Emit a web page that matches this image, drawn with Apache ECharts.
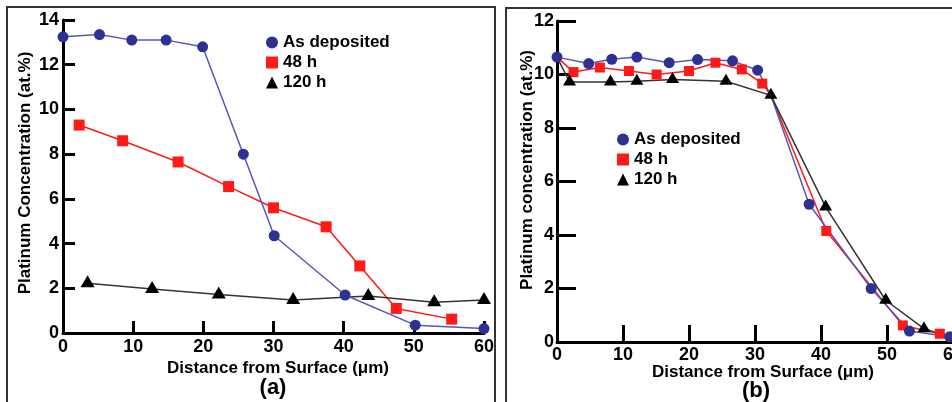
<!DOCTYPE html>
<html>
<head>
<meta charset="utf-8">
<script src="https://cdn.jsdelivr.net/npm/echarts@6/dist/echarts.min.js"></script>
<style>
html,body{margin:0;padding:0;background:#fff}
#chart{width:952px;height:402px}
</style>
</head>
<body>
<div id="chart"></div>
<script>
// series names (legend)
var names = ['As deposited', '48 h', '120 h'];

// panel (a): [distance um, Pt at.%]
var aDeposited = [[0,13.25],[5.2,13.35],[9.8,13.1],[14.7,13.1],[19.9,12.8],[25.7,8.0],[30.1,4.35],[40.2,1.7],[50.2,0.35],[60,0.2]];
var a48h = [[2.3,9.3],[8.5,8.6],[16.4,7.65],[23.6,6.55],[30,5.6],[37.5,4.75],[42.3,3.0],[47.5,1.1],[55.4,0.62]];
var a120h = [[3.5,2.22],[12.7,1.97],[22.2,1.72],[32.8,1.48],[43.5,1.65],[52.9,1.38],[60,1.48]];

// panel (b)
var bDeposited = [[0,10.65],[4.8,10.41],[8.3,10.57],[12.1,10.65],[17.0,10.44],[21.3,10.56],[26.6,10.51],[30.4,10.16],[32.4,9.22],[38.2,5.15],[47.6,2.0],[53.4,0.41],[59.5,0.2]];
var b48h = [[0,10.65],[2.5,10.09],[6.5,10.26],[10.9,10.13],[15.1,10.0],[20.0,10.13],[24.0,10.44],[28.0,10.19],[31.1,9.66],[32.4,9.22],[40.8,4.15],[52.4,0.62],[58.0,0.31],[59.5,0.2]];
var b120h = [[0,10.65],[1.9,9.72],[8.1,9.72],[12.1,9.75],[17.5,9.81],[25.6,9.75],[32.4,9.22],[40.7,5.05],[49.8,1.56],[55.6,0.5],[59.5,0.2]];
// points shared with another curve (marker drawn by the other one)
var bDepositedHidden = [8];
var b48hHidden = [0, 9, 13];
var b120hHidden = [0, 10];

var FONT = '"Liberation Sans", Arial, sans-serif';
var BLUE = '#2e3192', BLUE_LINE = '#5656bb', RED = '#ff1a1a', BLACK = '#000';

function axisX(idx) {
    return {
        type: 'value', gridIndex: idx, min: 0, max: 60, interval: 10,
        axisLine: {lineStyle: {color: '#000', width: 3}},
        axisTick: {inside: true, length: idx ? 17 : 12, lineStyle: {color: '#000', width: 3}},
        axisLabel: {color: '#000', fontSize: 18, fontWeight: 'bold', fontFamily: FONT, margin: idx ? 4 : 5},
        splitLine: {show: false}
    };
}
function axisY(idx, max) {
    return {
        type: 'value', gridIndex: idx, min: 0, max: max, interval: 2,
        axisLine: {show: true, lineStyle: {color: '#000', width: 3}},
        axisTick: {show: true, inside: true, length: idx ? 19 : 12, lineStyle: {color: '#000', width: 3}},
        axisLabel: {color: '#000', fontSize: 18, fontWeight: 'bold', fontFamily: FONT, margin: idx ? 3 : 4},
        splitLine: {show: false}
    };
}
function line(name, idx, data, symbol, size, color, lineColor, hidden) {
    var s = {
        type: 'line', name: name, xAxisIndex: idx, yAxisIndex: idx, data: data,
        symbol: symbol,
        symbolSize: hidden ? function (v, p) { return hidden.indexOf(p.dataIndex) >= 0 ? 0 : size; } : size,
        itemStyle: {color: color},
        lineStyle: {color: lineColor, width: 1.5},
        emphasis: {disabled: true}
    };
    if (symbol === 'triangle') s.symbolOffset = [0, -2];
    return s;
}
function legend(left, top) {
    return {
        left: left, top: top, orient: 'vertical', itemWidth: 12, itemHeight: 12, itemGap: 3,
        data: [{name: names[0], icon: 'circle'}, {name: names[1], icon: 'rect'}, {name: names[2], icon: 'triangle'}],
        textStyle: {color: '#000', fontSize: 17, fontWeight: 'bold', fontFamily: FONT},
        selectedMode: false
    };
}
function label(text, x, y, size, rot) {
    return {
        type: 'text', x: x, y: y, rotation: rot || 0,
        style: {text: text, fill: '#000', font: 'bold ' + size + 'px ' + FONT, textAlign: 'center', textVerticalAlign: 'middle'}
    };
}

var chart = echarts.init(document.getElementById('chart'));
chart.setOption({
    animation: false,
    grid: [
        {left: 63, top: 20, width: 421, height: 313, outerBoundsMode: 'none'},
        {left: 557, top: 21, width: 396, height: 321, outerBoundsMode: 'none'}
    ],
    xAxis: [axisX(0), axisX(1)],
    yAxis: [axisY(0, 14), axisY(1, 12)],
    legend: [legend(261, 29), legend(612, 126)],
    series: [
        line(names[1], 0, a48h, 'rect', 11, RED, RED),
        line(names[2], 0, a120h, 'triangle', [14, 12], BLACK, '#333'),
        line(names[0], 0, aDeposited, 'circle', 11, BLUE, BLUE_LINE),
        line(names[1], 1, b48h, 'rect', 10, RED, RED, b48hHidden),
        line(names[0], 1, bDeposited, 'circle', 11, BLUE, BLUE_LINE, bDepositedHidden),
        line(names[2], 1, b120h, 'triangle', [13, 11], BLACK, '#333', b120hHidden)
    ],
    graphic: [
        {type: 'rect', shape: {x: 7, y: 7, width: 488, height: 420}, style: {fill: 'none', stroke: '#333', lineWidth: 2}},
        {type: 'rect', shape: {x: 506, y: 8, width: 480, height: 420}, style: {fill: 'none', stroke: '#333', lineWidth: 2}},
        label('Distance from Surface (\u03bcm)', 278, 368, 17),
        label('Platinum Concentration (at.%)', 25, 173, 17, Math.PI / 2),
        label('(a)', 273, 388, 22),
        label('Distance from Surface (\u03bcm)', 763, 372, 17),
        label('Platinum concentration (at.%)', 527, 170, 17, Math.PI / 2),
        label('(b)', 756, 391, 22)
    ]
});
</script>
</body>
</html>
